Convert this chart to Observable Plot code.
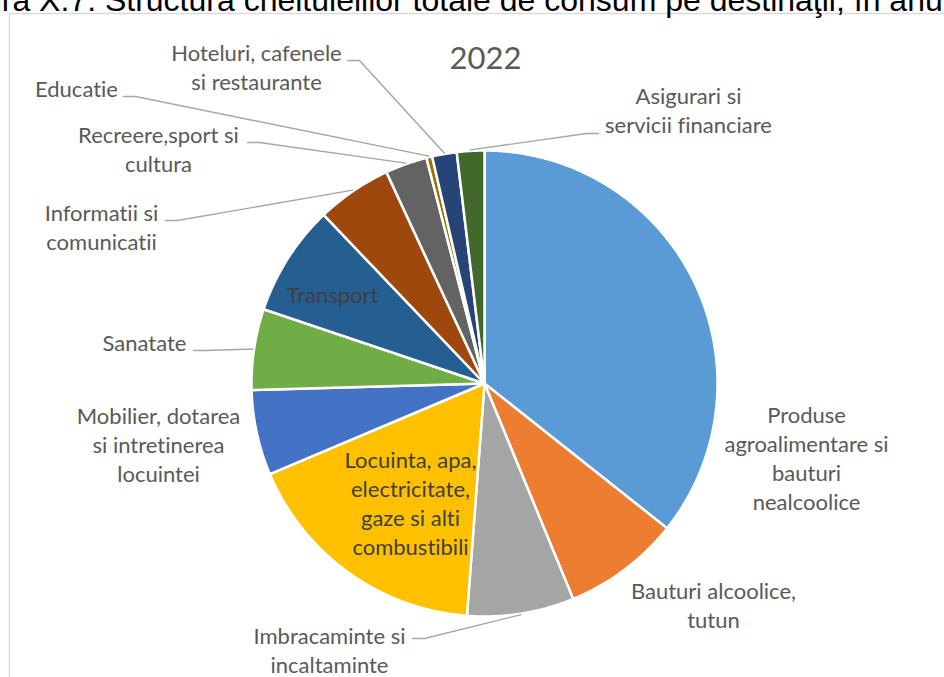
<!DOCTYPE html>
<html><head><meta charset="utf-8">
<script src="https://cdn.jsdelivr.net/npm/d3@7"></script>
<script src="https://cdn.jsdelivr.net/npm/@observablehq/plot@0.6"></script>
<style>
html,body{margin:0;padding:0;background:#fff;overflow:hidden}
svg text{font-variant-ligatures:none;font-feature-settings:"liga" 0,"clig" 0}
</style>
</head><body><div id="chart"></div>
<script>
// ---- data ----
const categories = [
  "Produse agroalimentare si bauturi nealcoolice",
  "Bauturi alcoolice, tutun",
  "Imbracaminte si incaltaminte",
  "Locuinta, apa, electricitate, gaze si alti combustibili",
  "Mobilier, dotarea si intretinerea locuintei",
  "Sanatate",
  "Transport",
  "Informatii si comunicatii",
  "Recreere,sport si cultura",
  "Educatie",
  "Hoteluri, cafenele si restaurante",
  "Asigurari si servicii financiare"
];
const values = [35.6, 8.1, 7.4, 17.4, 5.9, 5.6, 7.7, 5.2, 2.9, 0.4, 1.7, 1.9];
const labelLines = [
  "Produse\nagroalimentare si\nbauturi\nnealcoolice",
  "Bauturi alcoolice,\ntutun",
  "Imbracaminte si\nincaltaminte",
  "Locuinta, apa,\nelectricitate,\ngaze si alti\ncombustibili",
  "Mobilier, dotarea\nsi intretinerea\nlocuintei",
  "Sanatate",
  "Transport",
  "Informatii si\ncomunicatii",
  "Recreere,sport si\ncultura",
  "Educatie",
  "Hoteluri, cafenele\nsi restaurante",
  "Asigurari si\nservicii financiare"
];
const chartTitle = "2022";
const figureTitle = "Figura X.7. Structura cheltuielilor totale de consum pe destinaţii, în anul 2022";

// ---- styles ----
const palette = ["#5B9BD5","#ED7D31","#A5A5A5","#FFC000","#4472C4","#70AD47",
                 "#255E91","#9E480E","#636363","#997300","#264478","#43682B"];

// ---- layout (page pixels) ----
const W = 944, H = 677, CX = 484, CY = 383, R = 233;
const FS = 22, LH = 1.32, SHIFT = 5;
const labelLayout = [
  {px: 806, py: 422},
  {px: 713, py: 598},
  {px: 329, py: 643, leader: [412, 638, 1]},
  {px: 410, py: 467, inside: true},
  {px: 158, py: 423},
  {px: 144, py: 350, leader: [193, 350, 1]},
  {px: 332, py: 302, inside: true},
  {px: 101, py: 220, leader: [165, 220, 1]},
  {px: 158, py: 142, leader: [247, 142, 1]},
  {px: 76,  py: 96,  leader: [123, 96, 1]},
  {px: 256, py: 60,  leader: [347, 60, 1]},
  {px: 688, py: 103, leader: [598, 133, -1]}
];
const toX = px => px - CX;
const toY = py => CY - py;

// ---- derived geometry ----
const rows = categories.map((c, i) => ({category: c, value: values[i], label: labelLines[i]}));
const arcs = d3.pie().sort(null).value(d => d.value).startAngle(0).endAngle(2 * Math.PI)(rows);

const slicePts = arcs.flatMap(a => {
  const n = Math.max(2, Math.ceil((a.endAngle - a.startAngle) / (Math.PI / 360)));
  const pts = [{category: a.data.category, x: 0, y: 0}];
  for (let k = 0; k <= n; k++) {
    const t = a.startAngle + (a.endAngle - a.startAngle) * k / n;
    pts.push({category: a.data.category, x: R * Math.sin(t), y: R * Math.cos(t)});
  }
  pts.push({category: a.data.category, x: 0, y: 0});
  return pts;
});

const labels = arcs.map((a, i) => ({
  label: a.data.label,
  inside: !!labelLayout[i].inside,
  x: toX(labelLayout[i].px),
  y: toY(labelLayout[i].py - 0.71 * FS - SHIFT)
}));

const leaders = arcs.flatMap((a, i) => {
  const L = labelLayout[i].leader;
  if (!L) return [];
  const m = (a.startAngle + a.endAngle) / 2;
  return [
    {id: i, x: toX(L[0]), y: toY(L[1])},
    {id: i, x: toX(L[0] + 12 * L[2]), y: toY(L[1])},
    {id: i, x: (R + 1) * Math.sin(m), y: (R + 1) * Math.cos(m)}
  ];
});

const plot = Plot.plot({
  width: W, height: H, margin: 0,
  x: {domain: [-CX, W - CX], range: [0, W], axis: null},
  y: {domain: [CY - H, CY], range: [H, 0], axis: null},
  color: {domain: categories, range: palette},
  style: {background: "#fff"},
  marks: [
    Plot.frame({stroke: "#D9D9D9", strokeWidth: 1.4, insetLeft: 9, insetTop: 13, insetRight: -20, insetBottom: -20}),
    Plot.text([figureTitle], {x: toX(-61), y: toY(10 - 0.71 * 32), text: d => d, textAnchor: "start", lineAnchor: "top",
      fontSize: 32, fontFamily: "Liberation Sans, Arial, sans-serif", fill: "#000"}),
    Plot.line(slicePts, {x: "x", y: "y", z: "category", fill: "category", stroke: "white", strokeWidth: 2.5, strokeLinejoin: "round"}),
    Plot.line(leaders, {x: "x", y: "y", z: "id", stroke: "#A6A6A6", strokeWidth: 1.4}),
    Plot.text(labels.filter(d => !d.inside), {x: "x", y: "y", text: "label", lineAnchor: "top", lineHeight: LH,
      fontSize: FS, fontFamily: "Lato, sans-serif", fill: "#595959"}),
    Plot.text(labels.filter(d => d.inside), {x: "x", y: "y", text: "label", lineAnchor: "top", lineHeight: LH,
      fontSize: FS, fontFamily: "Lato, sans-serif", fill: "#404040"}),
    Plot.text([chartTitle], {x: toX(485), y: toY(68 - 0.71 * 31), text: d => d, lineAnchor: "top",
      fontSize: 31, fontFamily: "Lato, sans-serif", fill: "#595959"})
  ]
});
document.getElementById("chart").append(plot);
</script>
</body></html>
